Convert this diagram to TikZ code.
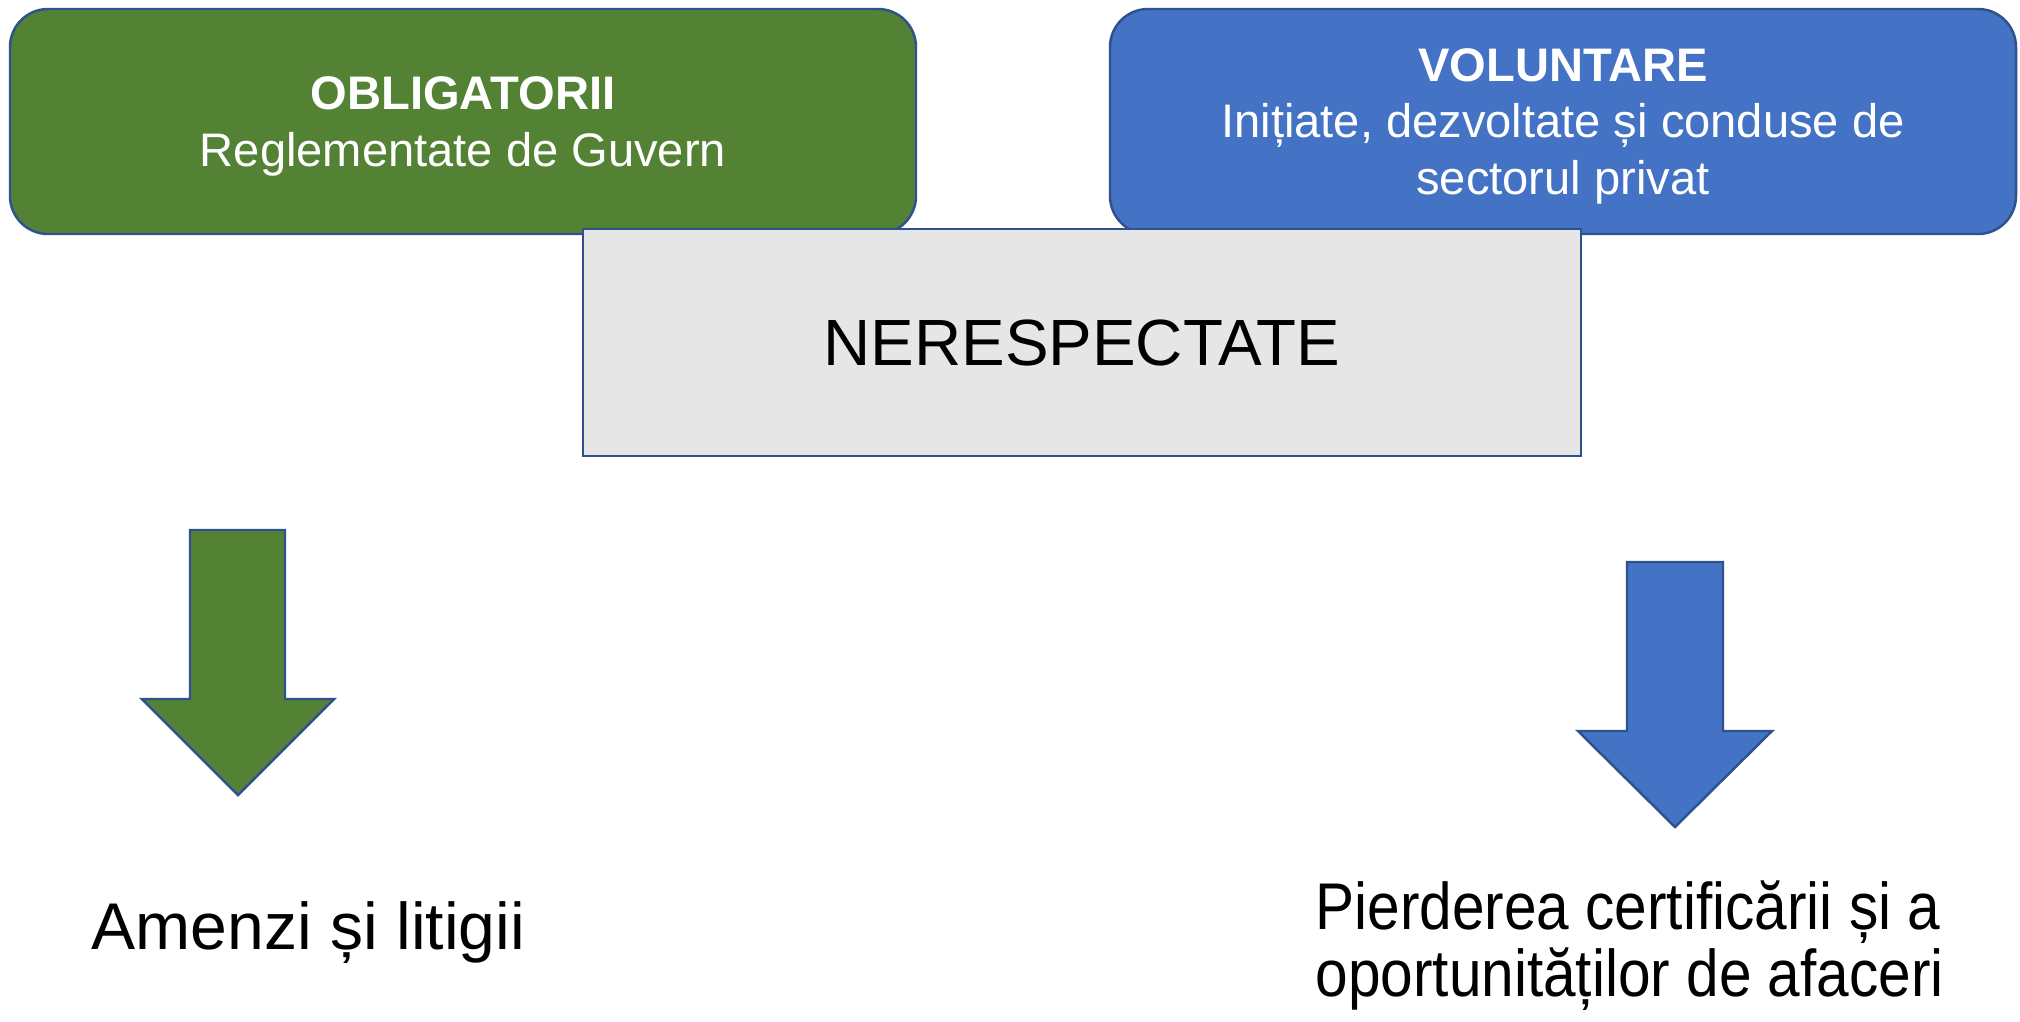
\documentclass[tikz,border=0pt]{standalone}
\usepackage{fontspec}
\setmainfont{Liberation Sans}
\definecolor{darkgreen}{HTML}{548235}
\definecolor{midblue}{HTML}{4472C4}
\definecolor{edgeblue}{HTML}{2F528F}
\definecolor{lightgrey}{HTML}{E7E6E6}
\begin{document}
\begin{tikzpicture}[
    topbox/.style={draw=edgeblue, line width=0.7pt, rounded corners=0.38cm, minimum width=9.06cm, minimum height=2.25cm, text depth=0pt, text=white, align=center, font=\fontsize{13.4}{16.2}\selectfont},
    midbox/.style={draw=edgeblue, line width=0.7pt, fill=lightgrey, minimum width=9.98cm, minimum height=2.27cm, font=\fontsize{18.6}{22}\selectfont},
    bigarrow/.style={draw=edgeblue, line width=0.7pt},
    result/.style={inner sep=0pt, anchor=base west, align=left, font=\fontsize{18.8}{17.4}\selectfont}]
  \useasboundingbox (0,0) rectangle (20.2,-10.21);
  \node[topbox, fill=darkgreen] (mandatory) at (4.63,-1.215) {\textbf{OBLIGATORII}\\Reglementate de Guvern};
  \node[topbox, fill=midblue] (voluntary) at (15.63,-1.215) {\textbf{VOLUNTARE}\\Inițiate, dezvoltate și conduse de\\sectorul privat};
  \node[midbox] (breach) at (10.82,-3.425) {NERESPECTATE};
  \draw[bigarrow, fill=darkgreen] (1.90,-5.30) -- (2.85,-5.30) -- (2.85,-6.99) -- (3.34,-6.99) -- (2.38,-7.95) -- (1.42,-6.99) -- (1.90,-6.99) -- cycle;
  \draw[bigarrow, fill=midblue] (16.27,-5.62) -- (17.23,-5.62) -- (17.23,-7.31) -- (17.72,-7.31) -- (16.75,-8.27) -- (15.78,-7.31) -- (16.27,-7.31) -- cycle;
  \node[result] (fines) at (0.91,-9.49) {Amenzi și litigii};
  \node[result, xscale=0.886, transform shape] (losses) at (13.15,-9.96) {Pierderea certificării și a\\oportunităților de afaceri};
\end{tikzpicture}
\end{document}
